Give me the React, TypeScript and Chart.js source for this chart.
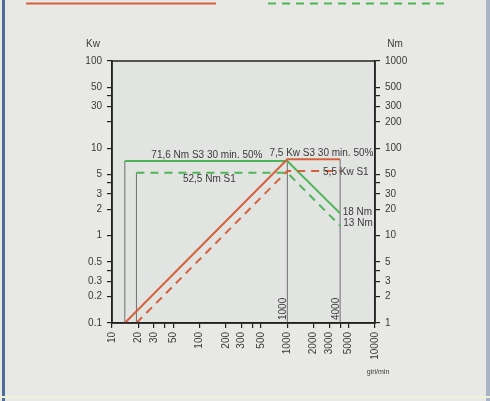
import React, { useEffect, useRef } from "react";
import { Chart, registerables } from "chart.js";

Chart.register(...registerables);

// ---- data ----
const rpmTicks = [10, 20, 30, 40, 50, 100, 200, 300, 400, 500, 1000, 2000, 3000, 4000, 5000, 10000];
const rpmTickLabels = ["10", "20", "30", "", "50", "100", "200", "300", "", "500", "1000", "2000", "3000", "", "5000", "10000"];
const kwTicks = [0.1, 0.2, 0.3, 0.4, 0.5, 1, 2, 3, 4, 5, 10, 20, 30, 40, 50, 100];
const kwTickLabels = ["0.1", "0.2", "0.3", "", "0.5", "1", "2", "3", "", "5", "10", "", "30", "", "50", "100"];
const nmTicks = [1, 2, 3, 4, 5, 10, 20, 30, 40, 50, 100, 200, 300, 400, 500, 1000];
const nmTickLabels = ["1", "2", "3", "", "5", "10", "20", "30", "", "50", "100", "200", "300", "", "500", "1000"];

const kwS3Rpm = [14, 1000, 4000];
const kwS3Values = [0.1, 7.5, 7.5];
const kwS1Rpm = [19, 1000, 4000];
const kwS1Values = [0.1, 5.5, 5.5];
const nmS3Rpm = [14, 1000, 4000];
const nmS3Values = [71.6, 71.6, 18];
const nmS1Rpm = [19, 1000, 4000];
const nmS1Values = [52.5, 52.5, 13];

const markerRpm = [14, 19, 1000, 4000];
const markerTopKw = [7.16, 5.25, 7.5, 7.5];

// annotations anchored in data space
const annotationTexts = ["71,6 Nm S3 30 min. 50%", "7,5 Kw S3 30 min. 50%", "52,5 Nm S1", "5,5 Kw S1", "18 Nm", "13 Nm"];
const annotationRpm = [121, 2450, 129, 4650, 6300, 6400];
const annotationKw = [8.4, 8.9, 4.4, 5.3, 1.87, 1.38];
const verticalLabels = ["1000", "4000"];
const verticalLabelRpm = [1000, 4000];

const ORANGE = "#d5603d";
const GREEN = "#4db457";
const TEXT = "#3a3a3a";

const pts = (xs: number[], ys: number[]) => xs.map((x, i) => ({ x, y: ys[i] }));

export default function App() {
  const ref = useRef<HTMLCanvasElement | null>(null);
  useEffect(() => {
    document.body.style.margin = "0";
    const canvas = ref.current!;
    const fontFamily = "'Liberation Sans', Arial, sans-serif";
    Chart.defaults.font.family = fontFamily;
    Chart.defaults.font.size = 10;
    Chart.defaults.color = TEXT;

    const decor = {
      id: "decor",
      beforeDraw(chart: any) {
        const { ctx, chartArea: a, width, height } = chart;
        ctx.save();
        ctx.fillStyle = "#e8e9e5";
        ctx.fillRect(0, 0, width, height);
        ctx.fillStyle = "#e2e4e2";
        ctx.fillRect(a.left, a.top, a.right - a.left, a.bottom - a.top);
        ctx.fillStyle = "#4d6c9c";
        ctx.fillRect(2, 0, 3, height);
        ctx.fillStyle = "#a9b3c6";
        ctx.fillRect(486, 0, 4, height);
        ctx.fillStyle = "#eef0d8";
        ctx.fillRect(0, 396, width, 2);
        // legend strokes at top
        ctx.lineWidth = 2;
        ctx.strokeStyle = ORANGE;
        ctx.beginPath();
        ctx.moveTo(26, 3.5);
        ctx.lineTo(216, 3.5);
        ctx.stroke();
        ctx.strokeStyle = GREEN;
        ctx.setLineDash([8, 6]);
        ctx.beginPath();
        ctx.moveTo(268, 3.5);
        ctx.lineTo(450, 3.5);
        ctx.stroke();
        ctx.restore();
      },
      afterDatasetsDraw(chart: any) {
        const { ctx, chartArea: a, scales } = chart;
        const x = scales.x, y = scales.y;
        ctx.save();
        ctx.strokeStyle = "#222";
        ctx.lineWidth = 1.5;
        ctx.strokeRect(a.left, a.top, a.right - a.left, a.bottom - a.top);
        ctx.fillStyle = TEXT;
        ctx.font = `10px ${fontFamily}`;
        ctx.textAlign = "center";
        ctx.textBaseline = "middle";
        annotationTexts.forEach((t, i) => {
          ctx.fillText(t, x.getPixelForValue(annotationRpm[i]), y.getPixelForValue(annotationKw[i]));
        });
        verticalLabels.forEach((t, i) => {
          const px = x.getPixelForValue(verticalLabelRpm[i]);
          ctx.save();
          ctx.translate(px - 4, a.bottom - 3);
          ctx.rotate(-Math.PI / 2);
          ctx.textAlign = "left";
          ctx.fillText(t, 0, 0);
          ctx.restore();
        });
        // axis titles
        ctx.fillText("Kw", 93, 44);
        ctx.fillText("Nm", 395, 44);
        ctx.font = `7px ${fontFamily}`;
        ctx.fillText("giri/min", 378, 372);
        ctx.restore();
      },
    };

    const markerSets = markerRpm.map((r, i) => ({
      data: [{ x: r, y: 0.1 }, { x: r, y: markerTopKw[i] }],
      borderColor: "#6e6e6e",
      borderWidth: 1,
      yAxisID: "y",
    }));

    const chart = new Chart(canvas, {
      type: "line",
      data: {
        datasets: [
          { data: pts(kwS3Rpm, kwS3Values), borderColor: ORANGE, borderWidth: 2, yAxisID: "y" },
          { data: pts(kwS1Rpm, kwS1Values), borderColor: ORANGE, borderWidth: 2, borderDash: [8, 6], yAxisID: "y" },
          { data: pts(nmS3Rpm, nmS3Values), borderColor: GREEN, borderWidth: 2, yAxisID: "y2" },
          { data: pts(nmS1Rpm, nmS1Values), borderColor: GREEN, borderWidth: 2, borderDash: [8, 6], yAxisID: "y2" },
          ...markerSets,
        ] as any,
      },
      options: {
        animation: false,
        responsive: false,
        maintainAspectRatio: false,
        layout: { padding: { top: 61, left: 0, right: 0, bottom: 0 } },
        elements: { point: { radius: 0 }, line: { tension: 0 } },
        plugins: { legend: { display: false }, tooltip: { enabled: false } },
        scales: {
          x: {
            type: "logarithmic",
            min: 10,
            max: 10000,
            afterBuildTicks: (s: any) => { s.ticks = rpmTicks.map((v) => ({ value: v })); },
            afterFit: (s: any) => { s.height = 78; },
            ticks: {
              autoSkip: false,
              minRotation: 90,
              maxRotation: 90,
              padding: 4,
              callback: (_v: any, i: number) => rpmTickLabels[i],
            },
            grid: { drawOnChartArea: false, drawTicks: true, tickLength: 5, tickColor: "#222", lineWidth: 1.2 },
            border: { display: true, color: "#222", width: 1.5 },
          },
          y: {
            type: "logarithmic",
            position: "left",
            min: 0.1,
            max: 100,
            afterBuildTicks: (s: any) => { s.ticks = kwTicks.map((v) => ({ value: v })); },
            afterFit: (s: any) => { s.width = 112; },
            ticks: { autoSkip: false, padding: 5, callback: (_v: any, i: number) => kwTickLabels[i] },
            grid: { drawOnChartArea: false, drawTicks: true, tickLength: 5, tickColor: "#222", lineWidth: 1.2 },
            border: { display: true, color: "#222", width: 1.5 },
          },
          y2: {
            type: "logarithmic",
            position: "right",
            min: 1,
            max: 1000,
            afterBuildTicks: (s: any) => { s.ticks = nmTicks.map((v) => ({ value: v })); },
            afterFit: (s: any) => { s.width = 115; },
            ticks: { autoSkip: false, padding: 5, callback: (_v: any, i: number) => nmTickLabels[i] },
            grid: { drawOnChartArea: false, drawTicks: true, tickLength: 5, tickColor: "#222", lineWidth: 1.2 },
            border: { display: true, color: "#222", width: 1.5 },
          },
        },
      } as any,
      plugins: [decor],
    });
    return () => chart.destroy();
  }, []);

  return (
    <div style={{ position: "absolute", left: 0, top: 0, width: 490, height: 401 }}>
      <canvas ref={ref} width={490} height={401} style={{ width: 490, height: 401 }} />
    </div>
  );
}
